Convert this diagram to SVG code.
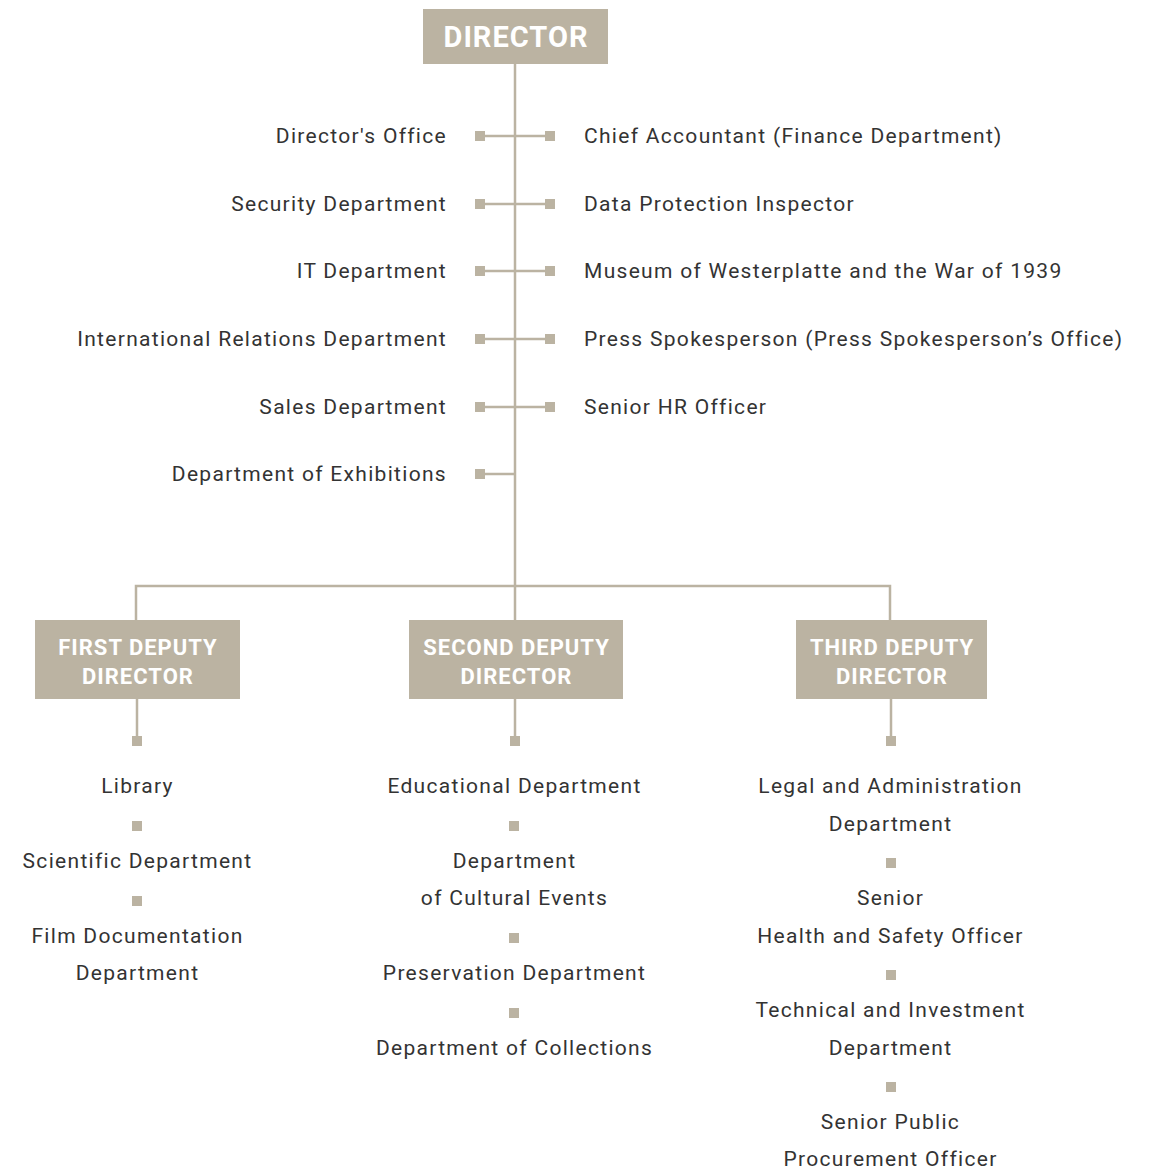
<svg xmlns="http://www.w3.org/2000/svg" width="1156" height="1173" viewBox="0 0 1156 1173">
<style>
.box{fill:#bbb3a2}
.bt{font-family:Roboto,"Liberation Sans",sans-serif;font-weight:bold;fill:#fff;text-anchor:middle}
.t{font-family:Roboto,"Liberation Sans",sans-serif;font-size:21px;fill:#333;letter-spacing:1.3px}
.l{text-anchor:end}
.r{text-anchor:start}
.c{text-anchor:middle}
.ln{stroke:#bbb3a2;stroke-width:2.5;fill:none}
.sq{fill:#bbb3a2}
</style>
<rect width="1156" height="1173" fill="#fff"/>
<g id="connectors">
<path class="ln" d="M515 64V620M480 136H550M480 204H550M480 271H550M480 339H550M480 407H550M480 474H515"/>
<path class="ln" d="M136 620V586H890V620"/>
<path class="ln" d="M137 699V740M515 699V740M891 699V740"/>
<g class="sq">
<rect x="475" y="131" width="10" height="10"/><rect x="545" y="131" width="10" height="10"/>
<rect x="475" y="199" width="10" height="10"/><rect x="545" y="199" width="10" height="10"/>
<rect x="475" y="266" width="10" height="10"/><rect x="545" y="266" width="10" height="10"/>
<rect x="475" y="334" width="10" height="10"/><rect x="545" y="334" width="10" height="10"/>
<rect x="475" y="402" width="10" height="10"/><rect x="545" y="402" width="10" height="10"/>
<rect x="475" y="469" width="10" height="10"/>
<rect x="132" y="736" width="10" height="10"/><rect x="510" y="736" width="10" height="10"/><rect x="886" y="736" width="10" height="10"/>
<rect x="132" y="821" width="10" height="10"/><rect x="132" y="896" width="10" height="10"/>
<rect x="509" y="821" width="10" height="10"/><rect x="509" y="933" width="10" height="10"/><rect x="509" y="1008" width="10" height="10"/>
<rect x="886" y="858" width="10" height="10"/><rect x="886" y="970" width="10" height="10"/><rect x="886" y="1082" width="10" height="10"/>
</g>
</g>
<g id="director">
<rect class="box" x="423" y="9" width="185" height="55"/>
<text class="bt" x="516" y="47" font-size="29" letter-spacing="1">DIRECTOR</text>
</g>
<g id="left-units">
<text class="t l" x="447" y="143">Director's Office</text>
<text class="t l" x="447" y="211">Security Department</text>
<text class="t l" x="447" y="278">IT Department</text>
<text class="t l" x="447" y="346">International Relations Department</text>
<text class="t l" x="447" y="414">Sales Department</text>
<text class="t l" x="447" y="481">Department of Exhibitions</text>
</g>
<g id="right-units">
<text class="t r" x="584" y="143">Chief Accountant (Finance Department)</text>
<text class="t r" x="584" y="211">Data Protection Inspector</text>
<text class="t r" x="584" y="278">Museum of Westerplatte and the War of 1939</text>
<text class="t r" x="584" y="346">Press Spokesperson (Press Spokesperson’s Office)</text>
<text class="t r" x="584" y="414">Senior HR Officer</text>
</g>
<g id="first-deputy">
<rect class="box" x="35" y="620" width="205" height="79"/>
<text class="bt" x="138" y="655" font-size="22" letter-spacing="1">FIRST DEPUTY</text>
<text class="bt" x="138" y="684" font-size="22" letter-spacing="1">DIRECTOR</text>
</g>
<g id="second-deputy">
<rect class="box" x="409" y="620" width="214" height="79"/>
<text class="bt" x="516.5" y="655" font-size="22" letter-spacing="1">SECOND DEPUTY</text>
<text class="bt" x="516.5" y="684" font-size="22" letter-spacing="1">DIRECTOR</text>
</g>
<g id="third-deputy">
<rect class="box" x="796" y="620" width="191" height="79"/>
<text class="bt" x="892" y="655" font-size="22" letter-spacing="1">THIRD DEPUTY</text>
<text class="bt" x="892" y="684" font-size="22" letter-spacing="1">DIRECTOR</text>
</g>
<g id="first-units">
<text class="t c" x="137.5" y="793">Library</text>
<text class="t c" x="137.5" y="868">Scientific Department</text>
<text class="t c" x="137.5" y="943">Film Documentation</text>
<text class="t c" x="137.5" y="980">Department</text>
</g>
<g id="second-units">
<text class="t c" x="514.5" y="793">Educational Department</text>
<text class="t c" x="514.5" y="868">Department</text>
<text class="t c" x="514.5" y="905">of Cultural Events</text>
<text class="t c" x="514.5" y="980">Preservation Department</text>
<text class="t c" x="514.5" y="1055">Department of Collections</text>
</g>
<g id="third-units">
<text class="t c" x="890.5" y="793">Legal and Administration</text>
<text class="t c" x="890.5" y="831">Department</text>
<text class="t c" x="890.5" y="905">Senior</text>
<text class="t c" x="890.5" y="943">Health and Safety Officer</text>
<text class="t c" x="890.5" y="1017">Technical and Investment</text>
<text class="t c" x="890.5" y="1055">Department</text>
<text class="t c" x="890.5" y="1129">Senior Public</text>
<text class="t c" x="890.5" y="1166">Procurement Officer</text>
</g>
</svg>
